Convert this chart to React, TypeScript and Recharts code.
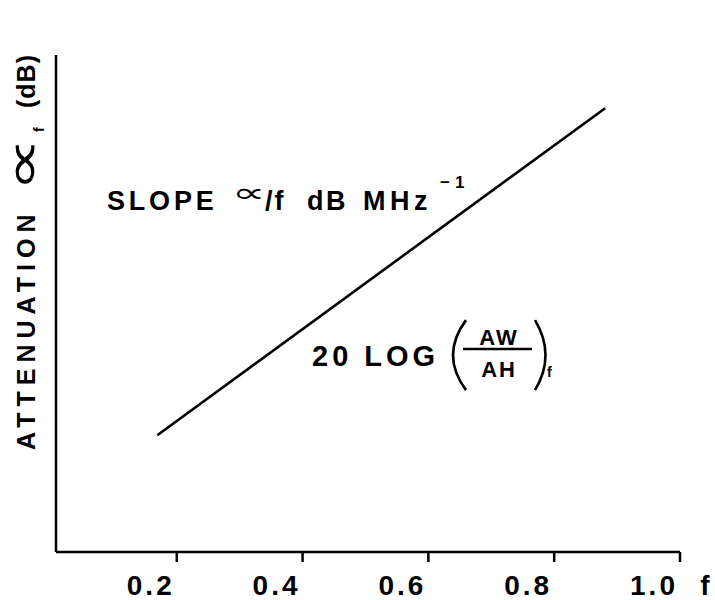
import { Label, Line, LineChart, ReferenceDot, XAxis, YAxis } from "recharts";

// frequency (MHz) at the two ends of the drawn line
const FREQ = [0.169, 0.881];
// attenuation, arbitrary units (axis has no values)
const ATTEN = [2.35, 8.93];
const X_TICKS = [0.2, 0.4, 0.6, 0.8, 1.0];

const data = FREQ.map((f, i) => ({ f, a: ATTEN[i] }));

const FONT = "'Liberation Sans', Arial, Helvetica, sans-serif";

function FreqTick(props: any) {
  const { x, y, payload } = props;
  return (
    <text
      x={x - 26}
      y={y + 31}
      textAnchor="middle"
      fontFamily={FONT}
      fontWeight="bold"
      fontSize={28}
      letterSpacing={3}
      fill="#000"
    >
      {Number(payload.value).toFixed(1)}
    </text>
  );
}

function YLabel(props: any) {
  const { y, height } = props.viewBox;
  const bx = 35;
  const by = y + height - 102;
  return (
    <g fill="#000" fontFamily={FONT}>
      <text transform={`rotate(-90, ${bx}, ${by})`} x={bx} y={by} fontWeight="bold">
        <tspan fontSize={25} letterSpacing={6}>ATTENUATION</tspan>
        <tspan x={bx + 318} dy={9} fontSize={14}>f</tspan>
        <tspan x={bx + 342} dy={-9} fontSize={25} letterSpacing={1}>(dB)</tspan>
      </text>
      <text
        transform={`translate(${bx + 5}, ${by - 285}) rotate(-90) scale(1.2, 0.78)`}
        x={0}
        y={0}
        textAnchor="middle"
        fontSize={64}
      >
        ∝
      </text>
    </g>
  );
}

function XLabel(props: any) {
  const { x, y, width } = props.viewBox;
  return (
    <text x={x + width + 25} y={y + 43} textAnchor="middle" fontFamily={FONT} fontWeight="bold" fontSize={28} fill="#000">
      f
    </text>
  );
}

function SlopeNote(props: any) {
  const { x, y } = props.viewBox;
  const base = { fontFamily: FONT, fill: "#000", fontWeight: "bold" as const };
  return (
    <g>
      <text x={x} y={y} fontSize={27} letterSpacing={3.8} {...base}>SLOPE</text>
      <text
        transform={`translate(${x + 125}, ${y - 8}) scale(1.3, 0.75)`}
        x={0}
        y={0}
        fontSize={36}
        fontFamily={FONT}
        fill="#000"
      >
        ∝
      </text>
      <text x={x + 158} y={y} fontSize={27} letterSpacing={2} {...base}>/f</text>
      <text x={x + 200} y={y} fontSize={27} letterSpacing={2.5} {...base}>dB</text>
      <text x={x + 256} y={y} fontSize={27} letterSpacing={4.5} {...base}>MHz</text>
      <text x={x + 333} y={y - 22} fontSize={17} letterSpacing={5} {...base}>−1</text>
    </g>
  );
}

function LogNote(props: any) {
  const { x, y } = props.viewBox;
  const base = { fontFamily: FONT, fill: "#000", fontWeight: "bold" as const };
  return (
    <g>
      <text x={x} y={y} fontSize={29} letterSpacing={4} {...base}>20 LOG</text>
      <path
        d={`M${x + 154},${y - 46} Q${x + 128},${y - 11} ${x + 154},${y + 24}`}
        fill="none"
        stroke="#000"
        strokeWidth={2.6}
      />
      <text x={x + 187} y={y - 21} textAnchor="middle" fontSize={22} letterSpacing={2} {...base}>AW</text>
      <line x1={x + 151} x2={x + 220} y1={y - 17} y2={y - 17} stroke="#000" strokeWidth={2.5} />
      <text x={x + 187} y={y + 11} textAnchor="middle" fontSize={22} letterSpacing={2} {...base}>AH</text>
      <path
        d={`M${x + 223},${y - 46} Q${x + 244},${y - 11} ${x + 223},${y + 24}`}
        fill="none"
        stroke="#000"
        strokeWidth={2.6}
      />
      <text x={x + 235} y={y + 11} fontSize={14} {...base}>f</text>
    </g>
  );
}

export default function App() {
  return (
    <div style={{ position: "absolute", left: 0, top: 0, background: "#fff" }}>
      <LineChart width={715} height={600} data={data} margin={{ top: 55, right: 35, bottom: 0, left: 55 }}>
        <XAxis
          dataKey="f"
          type="number"
          domain={[0.008, 1.0]}
          ticks={X_TICKS}
          height={48}
          tickSize={10}
          tick={<FreqTick />}
          axisLine={{ stroke: "#000", strokeWidth: 2.5 }}
          tickLine={{ stroke: "#000", strokeWidth: 2.5 }}
        >
          <Label content={<XLabel />} />
        </XAxis>
        <YAxis
          type="number"
          domain={[0, 10]}
          width={1}
          tick={false}
          tickLine={false}
          axisLine={{ stroke: "#000", strokeWidth: 2.5 }}
        >
          <Label content={<YLabel />} />
        </YAxis>
        <Line
          type="linear"
          dataKey="a"
          stroke="#000"
          strokeWidth={2.6}
          dot={false}
          isAnimationActive={false}
        />
        <ReferenceDot x={0.0891} y={6.88} r={0} fill="none" stroke="none" label={<SlopeNote />} />
        <ReferenceDot x={0.415} y={3.74} r={0} fill="none" stroke="none" label={<LogNote />} />
      </LineChart>
    </div>
  );
}
